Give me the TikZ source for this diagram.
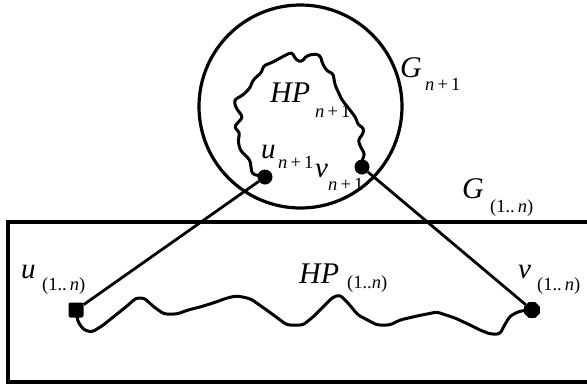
\documentclass[tikz,border=0pt]{standalone}
\usepackage{fontspec}
\setmainfont{Liberation Serif}
\usetikzlibrary{shapes.geometric}
\tikzset{
  frame/.style={line width=3.2pt},
  wig/.style={line width=3pt, line join=round, line cap=round, rounded corners=3pt},
  conn/.style={line width=2.8pt},
  dotnode/.style={circle, fill=black, inner sep=0pt, minimum size=15pt},
  sqnode/.style={rectangle, rounded corners=2pt, fill=black, inner sep=0pt, minimum size=15pt},
  octnode/.style={regular polygon, regular polygon sides=8, fill=black, inner sep=0pt, minimum size=17pt},
  mainlab/.style={inner sep=0pt, anchor=base west, font=\fontsize{30}{30}\selectfont\itshape},
  lowlab/.style={inner sep=0pt, anchor=base west, font=\fontsize{29}{29}\selectfont\itshape},
  sublab/.style={inner sep=0pt, anchor=base west, font=\fontsize{18.5}{18.5}\selectfont}
}
\begin{document}
\begin{tikzpicture}[x=1pt,y=-1pt]
\useasboundingbox (0,0) rectangle (587,384);
\clip (0,0) rectangle (587,384);
% frames
\draw[frame] (300.5,106.5) circle[radius=101.5];
\draw[frame] (8,222) rectangle (620,382);
% vertices
\node[dotnode] (u1) at (265,177) {};
\node[dotnode] (v1) at (362,167) {};
\node[sqnode] (u0) at (76,310) {};
\node[octnode] (v0) at (532,310) {};
% connectors
\draw[conn] (u1) -- (u0);
\draw[conn] (v1) -- (v0);
% Hamiltonian paths
\draw[wig] (u1.center) -- (252,174) -- (250,160) -- (240,150) -- (238,140) -- (240,133) -- (234,127) -- (243,117) -- (236,108) -- (234,100) -- (243,95) -- (250,88) -- (253,80) -- (262,72) -- (263,66) -- (273,62) -- (282,57) -- (292,52) -- (296,60) -- (302,62) -- (306,56) -- (314,54) -- (320,55) -- (323,65) -- (328,72) -- (333,73) -- (335,85) -- (342,100) -- (350,110) -- (356,118) -- (358,125) -- (364,128) -- (363,134) -- (358,140) -- (361,148) -- (365,154) -- (362,160) -- (v1.center);
\draw[wig] (u0.center) -- (78,322) -- (84,330) -- (92,332) -- (102,326) -- (112,318) -- (127,306) -- (136,298) -- (144,298) -- (154,307) -- (164,314) -- (177,314) -- (188,310) -- (200,307) -- (213,303) -- (227,298) -- (236,296) -- (243,297) -- (251,299) -- (268,311) -- (287,325) -- (303,325) -- (313,317) -- (323,307) -- (333,297) -- (340,295) -- (348,303) -- (358,315) -- (377,325) -- (390,325) -- (400,320) -- (417,316) -- (437,312) -- (455,318) -- (470,325) -- (480,330) -- (490,334) -- (500,334) -- (504,326) -- (510,316) -- (520,311) -- (v0.center);
% labels
\node[mainlab] (gA) at (400,77) {G};
\node[sublab] (gAs) at (425,90) {\textit{n}\,+\,1};
\node[mainlab] (gB) at (462,198) {G};
\node[sublab] (gBs) at (490,212) {(1..\,\textit{n})};
\node[mainlab] (hA) at (270,102) {HP};
\node[sublab] (hAs) at (315,117) {\textit{n}\,+\,1};
\node[mainlab] (hB) at (299,283) {HP};
\node[sublab] (hBs) at (347,288) {(1..\textit{n})};
\node[lowlab] (uA) at (261,158) {u};
\node[sublab] (uAs) at (278,168) {\textit{n}\,+\,1};
\node[lowlab] (vA) at (315,177) {v};
\node[sublab] (vAs) at (328,190) {\textit{n}\,+\,1};
\node[lowlab] (uB) at (21,278) {u};
\node[sublab] (uBs) at (42,290) {(1..\,\textit{n})};
\node[lowlab] (vB) at (518,278) {v};
\node[sublab] (vBs) at (537,290) {(1..\,\textit{n})};
\end{tikzpicture}
\end{document}
